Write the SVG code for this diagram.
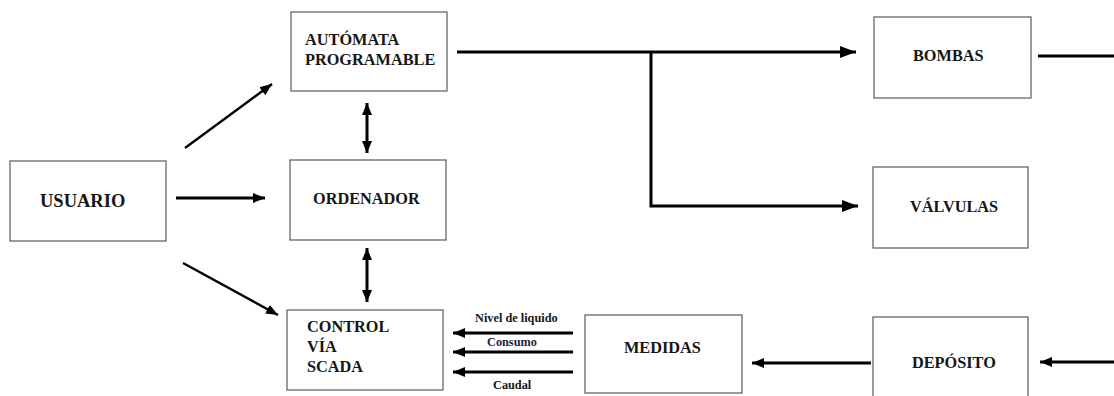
<svg xmlns="http://www.w3.org/2000/svg" width="1114" height="396" viewBox="0 0 1114 396">
  <style>
    .box { fill: #ffffff; stroke: #5a5a5a; stroke-width: 1.2; }
    .lbl { font-family: "Liberation Serif", "Times New Roman", serif; font-weight: bold; fill: #161616; }
    .big { font-size: 16.3px; }
    .small { font-size: 12.3px; }
    .wire { fill: none; stroke: #000000; stroke-width: 3; }
    .thin { fill: none; stroke: #000000; stroke-width: 2.4; }
  </style>
  <defs>
    <marker id="head" markerUnits="userSpaceOnUse" markerWidth="18" markerHeight="14" refX="16" refY="6" orient="auto">
      <path d="M0,0 L16,6 L0,12 z" fill="#000000"/>
    </marker>
    <marker id="headS" markerUnits="userSpaceOnUse" markerWidth="14" markerHeight="12" refX="12" refY="5" orient="auto-start-reverse">
      <path d="M0,0 L12,5 L0,10 z" fill="#000000"/>
    </marker>
  </defs>
  <rect width="1114" height="396" fill="#ffffff"/>

  <g id="connectors">
    <!-- from USUARIO -->
    <line class="thin" x1="185" y1="148" x2="272" y2="84" marker-end="url(#headS)"/>
    <line class="wire" x1="176" y1="198" x2="265" y2="198" marker-end="url(#headS)"/>
    <line class="thin" x1="183" y1="263" x2="278" y2="315" marker-end="url(#headS)"/>
    <!-- two-way links on the central column -->
    <line class="wire" x1="367" y1="103" x2="367" y2="153" marker-start="url(#headS)" marker-end="url(#headS)"/>
    <line class="wire" x1="367" y1="248" x2="367" y2="302" marker-start="url(#headS)" marker-end="url(#headS)"/>
    <!-- PLC outputs -->
    <line class="wire" x1="457" y1="52" x2="856" y2="52" marker-end="url(#head)"/>
    <polyline class="wire" points="651,52 651,206 858,206" marker-end="url(#head)"/>
    <line class="wire" x1="1038" y1="56" x2="1114" y2="56"/>
    <!-- measurement chain -->
    <line class="wire" x1="1114" y1="362" x2="1040" y2="362" marker-end="url(#headS)"/>
    <line class="wire" x1="871" y1="363" x2="752" y2="363" marker-end="url(#headS)"/>
    <line class="wire" x1="573" y1="333" x2="453" y2="333" marker-end="url(#headS)"/>
    <line class="wire" x1="573" y1="352" x2="453" y2="352" marker-end="url(#headS)"/>
    <line class="wire" x1="573" y1="372" x2="453" y2="372" marker-end="url(#headS)"/>
    <text class="lbl small" x="475" y="322">Nivel de liquido</text>
    <text class="lbl small" x="487" y="346" style="fill:#1c2340">Consumo</text>
    <text class="lbl small" x="493" y="389">Caudal</text>
  </g>

  <g id="automata">
    <rect class="box" x="291" y="12" width="156" height="79"/>
    <text class="lbl big" x="305" y="45">AUTÓMATA</text>
    <text class="lbl big" x="305" y="65">PROGRAMABLE</text>
  </g>
  <g id="usuario">
    <rect class="box" x="10" y="161" width="156" height="80"/>
    <text class="lbl" x="40" y="207" style="font-size:18.5px">USUARIO</text>
  </g>
  <g id="ordenador">
    <rect class="box" x="290" y="160" width="156" height="80"/>
    <text class="lbl big" x="313" y="204">ORDENADOR</text>
  </g>
  <g id="control">
    <rect class="box" x="287" y="310" width="156" height="80"/>
    <text class="lbl big" x="307" y="332">CONTROL</text>
    <text class="lbl big" x="307" y="352">VÍA</text>
    <text class="lbl big" x="307" y="372">SCADA</text>
  </g>
  <g id="bombas">
    <rect class="box" x="874" y="17" width="157" height="81"/>
    <text class="lbl big" x="913" y="61">BOMBAS</text>
  </g>
  <g id="valvulas">
    <rect class="box" x="873" y="167" width="155" height="81"/>
    <text class="lbl big" x="910" y="212">VÁLVULAS</text>
  </g>
  <g id="medidas">
    <rect class="box" x="585" y="315" width="157" height="78"/>
    <text class="lbl big" x="624" y="353">MEDIDAS</text>
  </g>
  <g id="deposito">
    <rect class="box" x="873" y="317" width="155" height="90"/>
    <text class="lbl big" x="912" y="368">DEPÓSITO</text>
  </g>
</svg>
